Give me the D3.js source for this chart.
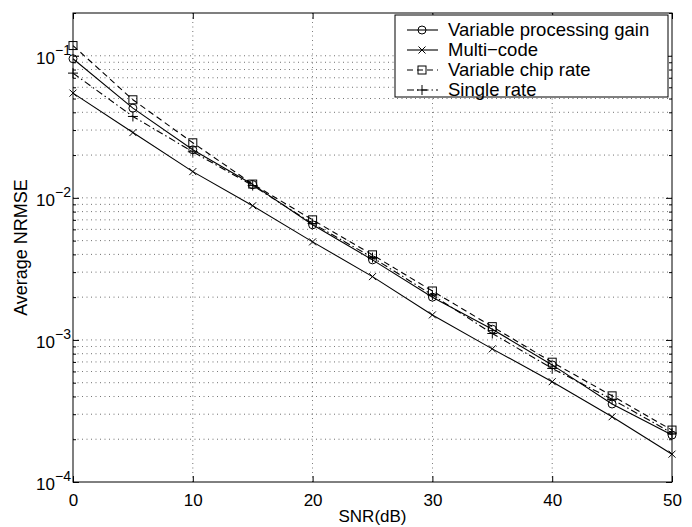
<!DOCTYPE html>
<html><head><meta charset="utf-8">
<script src="https://cdn.jsdelivr.net/npm/d3@7"></script>
<style>body{margin:0;background:#fff}svg{display:block}text{font-family:"Liberation Sans",Arial,sans-serif;fill:#000}</style>
</head><body><svg id="c" width="692" height="527"></svg>
<script>
const snr = [0,5,10,15,20,25,30,35,40,45,50];
const vpg = [0.0953,0.0428,0.0218,0.0124,0.00646,0.00366,0.0020,0.00119,0.000667,0.000354,0.000214];
const multi = [0.0546,0.0288,0.0153,0.0088,0.0049,0.00279,0.0015,0.000865,0.000508,0.000288,0.000157];
const vcr = [0.118,0.049,0.0244,0.0125,0.0070,0.00397,0.00221,0.00124,0.000697,0.000404,0.000232];
const single = [0.0755,0.0374,0.0211,0.0122,0.0066,0.0038,0.00207,0.00111,0.00063,0.000382,0.000221];
const seriesNames = ["Variable processing gain","Multi\u2212code","Variable chip rate","Single rate"];
const xTicks = [0,10,20,30,40,50];
const yMajor = [1e-4,1e-3,1e-2,1e-1];
const yExp = ["\u22124","\u22123","\u22122","\u22121"];

const svg = d3.select("#c");
const L=73,R=672,T=13,B=482;
const x = d3.scaleLinear().domain([0,50]).range([L,R]);
const y = d3.scaleLog().domain([1e-4,0.2]).range([B,T]);

const minor=[];
for(let e=-4;e<=-1;e++){for(let m=1;m<=9;m++){const v=m*Math.pow(10,e);if(v>=1e-4&&v<=0.2)minor.push(v);}}

// grid
const g=svg.append("g");
g.selectAll(".gy").data(minor.filter(v=>v>1e-4&&v<0.2)).enter().append("line")
 .attr("x1",L).attr("x2",R).attr("y1",d=>y(d)).attr("y2",d=>y(d))
 .attr("stroke","#000").attr("stroke-width",0.8).attr("stroke-dasharray","1,3.5").attr("opacity",0.7);
g.selectAll(".gx").data(xTicks.slice(1,-1)).enter().append("line")
 .attr("x1",d=>x(d)).attr("x2",d=>x(d)).attr("y1",T).attr("y2",B)
 .attr("stroke","#000").attr("stroke-width",0.8).attr("stroke-dasharray","1,3.5").attr("opacity",0.7);

// axes
const ax=svg.append("g").attr("transform",`translate(0,${B})`)
 .call(d3.axisBottom(x).tickValues(xTicks).tickSize(-6).tickPadding(12).tickFormat(d3.format("d")));
ax.select(".domain").remove();
ax.selectAll("text").attr("font-size",17).style("font-family","Liberation Sans, Arial, sans-serif");
const axT=svg.append("g").attr("transform",`translate(0,${T})`)
 .call(d3.axisTop(x).tickValues(xTicks).tickSize(-6).tickFormat(""));
axT.select(".domain").remove();

const ayl=svg.append("g").attr("transform",`translate(${L},0)`)
 .call(d3.axisLeft(y).tickValues(yMajor).tickSize(-6).tickPadding(20).tickFormat(""));
ayl.select(".domain").remove();
const aylm=svg.append("g").attr("transform",`translate(${L},0)`)
 .call(d3.axisLeft(y).tickValues(minor.filter(v=>yMajor.indexOf(v)<0)).tickSize(-3).tickFormat(""));
aylm.select(".domain").remove();
const ayr=svg.append("g").attr("transform",`translate(${R},0)`)
 .call(d3.axisRight(y).tickValues(yMajor).tickSize(-6).tickFormat(""));
ayr.select(".domain").remove();
const ayrm=svg.append("g").attr("transform",`translate(${R},0)`)
 .call(d3.axisRight(y).tickValues(minor.filter(v=>yMajor.indexOf(v)<0)).tickSize(-3).tickFormat(""));
ayrm.select(".domain").remove();
svg.selectAll(".tick line").attr("stroke","#000");

// y tick labels with superscripts
yMajor.forEach((v,i)=>{
  const t=svg.append("text").attr("x",L-2).attr("y",y(v)+8).attr("text-anchor","end").attr("font-size",17);
  t.append("tspan").text("10");
  t.append("tspan").attr("dy",-9).attr("font-size",14).text(yExp[i]);
});

svg.append("rect").attr("x",L).attr("y",T).attr("width",R-L).attr("height",B-T)
 .attr("fill","none").attr("stroke","#000").attr("stroke-width",1);

// series
const series=[
 {v:vpg,dash:null,m:"o"},
 {v:multi,dash:null,m:"x"},
 {v:vcr,dash:"6,4",m:"s"},
 {v:single,dash:"7,3,1.5,3",m:"+"}
];
const line=d3.line().x((d,i)=>x(snr[i])).y(d=>y(d));
function marker(sel,type,cx,cy){
  if(type==="o") sel.append("circle").attr("cx",cx).attr("cy",cy).attr("r",4).attr("fill","none").attr("stroke","#000").attr("stroke-width",1);
  if(type==="s") sel.append("rect").attr("x",cx-4).attr("y",cy-4).attr("width",8).attr("height",8).attr("fill","none").attr("stroke","#000").attr("stroke-width",1);
  if(type==="x") sel.append("path").attr("d",`M${cx-3.5},${cy-3.5}L${cx+3.5},${cy+3.5}M${cx-3.5},${cy+3.5}L${cx+3.5},${cy-3.5}`).attr("stroke","#000").attr("stroke-width",1);
  if(type==="+") sel.append("path").attr("d",`M${cx-5},${cy}L${cx+5},${cy}M${cx},${cy-5}L${cx},${cy+5}`).attr("stroke","#000").attr("stroke-width",1);
}
series.forEach(s=>{
  const p=svg.append("path").datum(s.v).attr("d",line).attr("fill","none").attr("stroke","#000").attr("stroke-width",1.1);
  if(s.dash) p.attr("stroke-dasharray",s.dash);
  const mg=svg.append("g");
  s.v.forEach((d,i)=>marker(mg,s.m,x(snr[i]),y(d)));
});

// legend
const lg=svg.append("g");
lg.append("rect").attr("x",395).attr("y",15).attr("width",273).attr("height",82).attr("fill","#fff").attr("stroke","#000").attr("stroke-width",1);
series.forEach((s,i)=>{
  const cy=30+i*20;
  const l=lg.append("line").attr("x1",407).attr("x2",438).attr("y1",cy).attr("y2",cy).attr("stroke","#000").attr("stroke-width",1.1);
  if(s.dash) l.attr("stroke-dasharray",s.dash);
  marker(lg,s.m,422,cy);
  lg.append("text").attr("x",448).attr("y",cy+6).attr("font-size",18.5).text(seriesNames[i]);
});

// titles
svg.append("text").attr("x",(L+R)/2).attr("y",522).attr("text-anchor","middle").attr("font-size",17).text("SNR(dB)");
svg.append("text").attr("transform",`translate(27,${(T+B)/2}) rotate(-90)`).attr("text-anchor","middle").attr("font-size",18).text("Average NRMSE");
</script></body></html>
